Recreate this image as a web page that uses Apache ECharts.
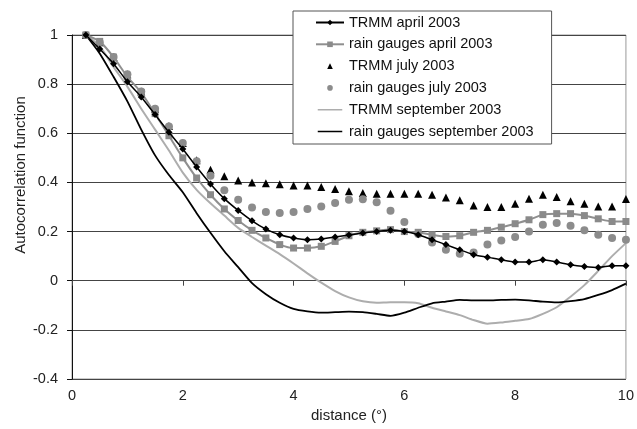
<!DOCTYPE html>
<html>
<head>
<meta charset="utf-8">
<script src="https://cdn.jsdelivr.net/npm/echarts@6/dist/echarts.min.js"></script>
<style>
html,body{margin:0;padding:0;background:#fff;}
#chart{width:637px;height:429px;}
</style>
</head>
<body>
<div id="chart"></div>
<script>
const distance = [0.25,0.5,0.75,1,1.25,1.5,1.75,2,2.25,2.5,2.75,3,3.25,3.5,3.75,4,4.25,4.5,4.75,5,5.25,5.5,5.75,6,6.25,6.5,6.75,7,7.25,7.5,7.75,8,8.25,8.5,8.75,9,9.25,9.5,9.75,10];
const trmmApril = [1.0,0.943,0.883,0.81,0.748,0.676,0.604,0.536,0.463,0.394,0.334,0.286,0.244,0.21,0.187,0.174,0.167,0.17,0.178,0.186,0.194,0.2,0.205,0.2,0.187,0.167,0.147,0.126,0.106,0.096,0.085,0.076,0.076,0.085,0.076,0.065,0.058,0.054,0.061,0.061];
const gaugesApril = [1.0,0.974,0.91,0.83,0.766,0.68,0.59,0.50,0.418,0.35,0.292,0.245,0.205,0.174,0.147,0.133,0.133,0.14,0.16,0.183,0.197,0.203,0.208,0.2,0.197,0.187,0.18,0.183,0.197,0.205,0.218,0.232,0.248,0.269,0.273,0.273,0.265,0.252,0.241,0.241];
const trmmJuly = [1.0,0.97,0.91,0.84,0.77,0.70,0.63,0.56,0.49,0.452,0.425,0.408,0.40,0.397,0.393,0.387,0.387,0.381,0.373,0.364,0.357,0.354,0.354,0.354,0.354,0.35,0.339,0.327,0.306,0.30,0.30,0.313,0.334,0.35,0.341,0.323,0.313,0.302,0.302,0.333];
const gaugesJuly = [1.0,0.97,0.91,0.84,0.77,0.70,0.628,0.56,0.486,0.427,0.368,0.33,0.298,0.28,0.276,0.28,0.292,0.302,0.316,0.33,0.332,0.319,0.285,0.239,0.19,0.156,0.126,0.11,0.115,0.147,0.164,0.178,0.2,0.228,0.235,0.224,0.205,0.187,0.174,0.167];
const trmmSept = [1.0,0.955,0.87,0.79,0.70,0.615,0.53,0.44,0.37,0.315,0.265,0.215,0.178,0.143,0.108,0.07,0.03,-0.008,-0.042,-0.068,-0.084,-0.09,-0.088,-0.088,-0.092,-0.11,-0.125,-0.14,-0.16,-0.175,-0.17,-0.163,-0.156,-0.135,-0.108,-0.065,-0.018,0.04,0.10,0.153];
const gaugesSept = [1.0,0.925,0.83,0.73,0.615,0.51,0.43,0.36,0.275,0.195,0.12,0.055,-0.01,-0.055,-0.09,-0.115,-0.125,-0.13,-0.128,-0.126,-0.128,-0.135,-0.143,-0.13,-0.11,-0.092,-0.085,-0.078,-0.08,-0.08,-0.078,-0.077,-0.08,-0.085,-0.088,-0.083,-0.075,-0.058,-0.038,-0.012];
const seriesNames = ['TRMM april 2003','rain gauges april 2003','TRMM july 2003','rain gauges july 2003','TRMM september 2003','rain gauges september 2003'];
const yTicks = [-0.4,-0.2,0,0.2,0.4,0.6,0.8,1];
const xTicks = [0,2,4,6,8,10];

const FONT = "'Liberation Sans', Arial, sans-serif";
const pairs = arr => arr.map((v,i) => [distance[i], v]);
const LINE_ICON = 'path://M0,0L0.01,0L0,0.01Z M0,3.2H28V4.8H0Z M0,8L0.01,8L0,7.99Z';

const chart = echarts.init(document.getElementById('chart'), null, {renderer:'canvas'});
chart.setOption({
  animation:false,
  backgroundColor:'#fff',
  textStyle:{fontFamily:FONT},
  grid:{left:72,right:9,top:35,bottom:50,show:true,borderColor:'#999',borderWidth:1,backgroundColor:'transparent'},
  legend:{
    orient:'vertical', left:293, top:11,
    padding:[4,18,5,22], itemGap:6.8, itemWidth:28, itemHeight:7,
    borderColor:'#555', borderWidth:1, backgroundColor:'#fff',
    textStyle:{fontSize:14.5,color:'#111',fontFamily:FONT},
    data:[
      {name:seriesNames[0]},
      {name:seriesNames[1]},
      {name:seriesNames[2]},
      {name:seriesNames[3]},
      {name:seriesNames[4], icon:LINE_ICON},
      {name:seriesNames[5], icon:LINE_ICON}
    ]
  },
  graphic:[{
    type:'text', x:21, y:175, rotation:Math.PI/2,
    style:{text:'Autocorrelation function', fill:'#222', font:"15px 'Liberation Sans', Arial, sans-serif", textAlign:'center', textVerticalAlign:'middle'}
  }],
  xAxis:[{
    type:'value', position:'bottom', min:xTicks[0], max:xTicks[xTicks.length-1], interval:2,
    axisLine:{show:false,onZero:false}, axisTick:{show:false}, splitLine:{show:false},
    axisLabel:{fontSize:14.5,color:'#222',margin:9,fontFamily:FONT},
    name:'distance (°)', nameLocation:'middle', nameGap:27,
    nameTextStyle:{fontSize:15,color:'#222',fontFamily:FONT}
  },{
    type:'value', position:'top', min:xTicks[0], max:xTicks[xTicks.length-1], interval:2,
    axisLine:{show:true,onZero:true,lineStyle:{color:'#444',width:1}},
    axisTick:{show:true,inside:true,length:5,lineStyle:{color:'#444'}},
    axisLabel:{show:false}, splitLine:{show:false}
  }],
  yAxis:{
    type:'value', min:yTicks[0], max:yTicks[yTicks.length-1], interval:0.2,
    axisLine:{show:true,onZero:false,lineStyle:{color:'#111',width:1}},
    axisTick:{show:true,length:5,lineStyle:{color:'#111'}},
    axisLabel:{fontSize:14.5,color:'#222',margin:14,fontFamily:FONT,formatter:v=>String(+v.toFixed(1))},
    splitLine:{show:true,lineStyle:{color:'#444',width:1}}
  },
  series:[
    {name:seriesNames[4], type:'line', data:pairs(trmmSept), symbol:'none', smooth:0.2,
      lineStyle:{color:'#adadad',width:2}, itemStyle:{color:'#adadad'}, z:2},
    {name:seriesNames[5], type:'line', data:pairs(gaugesSept), symbol:'none', smooth:0.2,
      lineStyle:{color:'#000',width:1.8}, itemStyle:{color:'#000'}, z:3},
    {name:seriesNames[2], type:'line', data:pairs(trmmJuly), symbol:'triangle', symbolSize:8,
      lineStyle:{width:0,opacity:0}, itemStyle:{color:'#000'}, z:3.5},
    {name:seriesNames[1], type:'line', data:pairs(gaugesApril), symbol:'rect', symbolSize:7, smooth:0.2,
      lineStyle:{color:'#8f8f8f',width:2}, itemStyle:{color:'#8a8a8a'}, z:4},
    {name:seriesNames[3], type:'line', data:pairs(gaugesJuly), symbol:'circle', symbolSize:8,
      lineStyle:{width:0,opacity:0}, itemStyle:{color:'#8c8c8c'}, z:4},
    {name:seriesNames[0], type:'line', data:pairs(trmmApril), symbol:'diamond', symbolSize:7, smooth:0.2,
      lineStyle:{color:'#000',width:1.5}, itemStyle:{color:'#000'}, z:6}
  ]
});
</script>
</body>
</html>
